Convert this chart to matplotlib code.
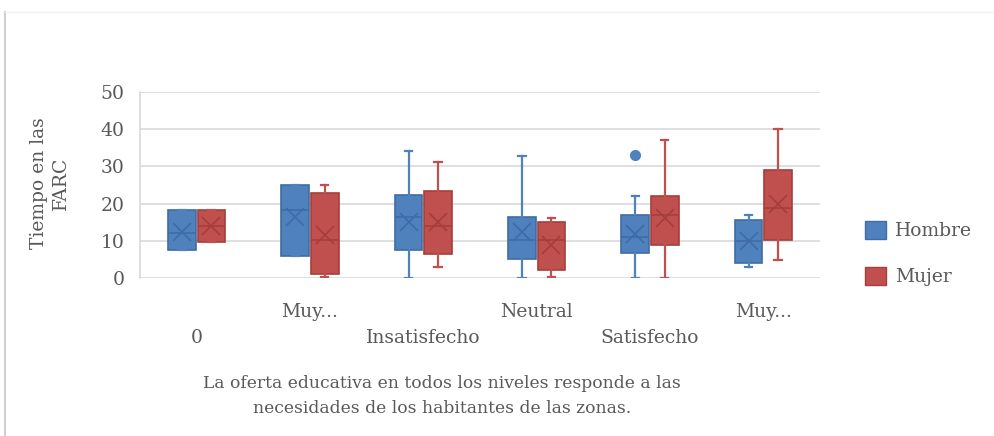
import matplotlib
matplotlib.use("Agg")
import matplotlib.pyplot as plt
from matplotlib.patches import Patch
from matplotlib.lines import Line2D

# categories on the x axis (Excel truncates the long ones)
categories = ["0", "Muy...", "Insatisfecho", "Neutral", "Satisfecho", "Muy..."]
series = ["Hombre", "Mujer"]

# box statistics
hombre_whislo = [7.6, 5.9, 0.0, 0.0, 0.0, 3.0]
hombre_q1 = [7.6, 5.9, 7.6, 5.0, 6.7, 4.1]
hombre_med = [12.1, 18.2, 16.4, 10.3, 10.9, 9.9]
hombre_q3 = [18.2, 25.1, 22.4, 16.4, 16.9, 15.5]
hombre_whishi = [18.2, 25.1, 34.1, 32.7, 22.0, 16.9]
hombre_mean = [12.5, 16.4, 15.0, 12.4, 11.9, 9.9]
hombre_fliers = [[], [], [], [], [33.0], []]

mujer_whislo = [9.7, 0.3, 3.0, 0.3, 0.0, 4.8]
mujer_q1 = [9.7, 1.2, 6.4, 2.1, 9.0, 10.1]
mujer_med = [14.0, 10.3, 13.9, 10.3, 16.9, 18.7]
mujer_q3 = [18.2, 22.9, 23.3, 15.1, 22.0, 29.0]
mujer_whishi = [18.2, 25.1, 31.1, 16.0, 37.0, 40.0]
mujer_mean = [14.0, 11.5, 15.0, 9.0, 16.1, 19.8]
mujer_fliers = [[], [], [], [], [], []]

yticks = [0, 10, 20, 30, 40, 50]

text_color = "#595959"
grid_color = "#d9d9d9"
fills = {"Hombre": "#4f81bd", "Mujer": "#c0504d"}
edges = {"Hombre": "#3e6ca6", "Mujer": "#a53e3b"}
FONT = "DejaVu Serif"
FS = 13.5


def make_stats(whislo, q1, med, q3, whishi, mean, fliers):
    stats = []
    for i in range(len(med)):
        stats.append(dict(whislo=whislo[i], q1=q1[i], med=med[i], q3=q3[i],
                          whishi=whishi[i], mean=mean[i], fliers=fliers[i]))
    return stats


data = {
    "Hombre": make_stats(hombre_whislo, hombre_q1, hombre_med, hombre_q3,
                         hombre_whishi, hombre_mean, hombre_fliers),
    "Mujer": make_stats(mujer_whislo, mujer_q1, mujer_med, mujer_q3,
                        mujer_whishi, mujer_mean, mujer_fliers),
}
offsets = {"Hombre": -0.13, "Mujer": 0.13}

fig = plt.figure(figsize=(9.95, 4.36), dpi=100)
ax = fig.add_axes([140 / 995, 1 - 278 / 436, 680 / 995, 186 / 436])

for name in series:
    fc, ec = fills[name], edges[name]
    pos = [i + offsets[name] for i in range(len(categories))]
    ax.bxp(data[name], positions=pos, widths=0.245, patch_artist=True,
           showmeans=True, capwidths=0.065,
           boxprops=dict(facecolor=fc, edgecolor=ec, linewidth=1.2),
           whiskerprops=dict(color=fc, linewidth=1.6),
           capprops=dict(color=fc, linewidth=1.6),
           medianprops=dict(color=ec, linewidth=1.2),
           meanprops=dict(marker="x", markersize=13, markeredgecolor=ec,
                          markeredgewidth=1.2),
           flierprops=dict(marker="o", markersize=7, markerfacecolor=fc,
                           markeredgecolor=fc))

ax.set_xlim(-0.5, len(categories) - 0.5)
ax.set_ylim(0, 50)
ax.set_yticks(yticks)
ax.set_yticklabels([str(v) for v in yticks], fontsize=FS, color=text_color,
                   family=FONT)
ax.set_xticks(range(len(categories)))
ax.set_xticklabels(categories, fontsize=FS, color=text_color, family=FONT)
for i, tick in enumerate(ax.xaxis.get_major_ticks()):
    tick.set_pad(18 if i % 2 else 37)
ax.tick_params(axis="both", length=0)
ax.tick_params(axis="y", pad=11)

ax.set_axisbelow(True)
ax.yaxis.grid(True, color=grid_color, linewidth=1.2)
for s in ["top", "right", "bottom"]:
    ax.spines[s].set_visible(False)
ax.spines["left"].set_color(grid_color)
ax.spines["left"].set_linewidth(1.2)

fig.text(50 / 995, 1 - 183 / 436, "Tiempo en las\nFARC", rotation=90,
         ha="center", va="center", fontsize=FS, color=text_color,
         family=FONT, linespacing=1.25)
fig.text(442 / 995, 1 - 396 / 436,
         "La oferta educativa en todos los niveles responde a las\n"
         "necesidades de los habitantes de las zonas.",
         ha="center", va="center", fontsize=12.3, color=text_color,
         family=FONT, linespacing=1.55)

handles = [Patch(facecolor=fills[n], edgecolor=edges[n]) for n in series]
fig.legend(handles, series, loc="center left",
           bbox_to_anchor=(865 / 995, 1 - 253.5 / 436), frameon=False,
           borderpad=0, borderaxespad=0, handlelength=1.1, handleheight=1.1,
           handletextpad=0.5, labelspacing=1.4,
           prop=dict(family=FONT, size=FS), labelcolor=text_color)

# thin chart frame remnants
fig.add_artist(Line2D([5 / 995, 5 / 995], [0, 1 - 12 / 436],
                      color="#d0d0d0", linewidth=1.5))
fig.add_artist(Line2D([5 / 995, 1], [1 - 12 / 436, 1 - 12 / 436],
                      color="#f2f2f2", linewidth=1.0))

fig.savefig("out.png", dpi=100, facecolor="white")
